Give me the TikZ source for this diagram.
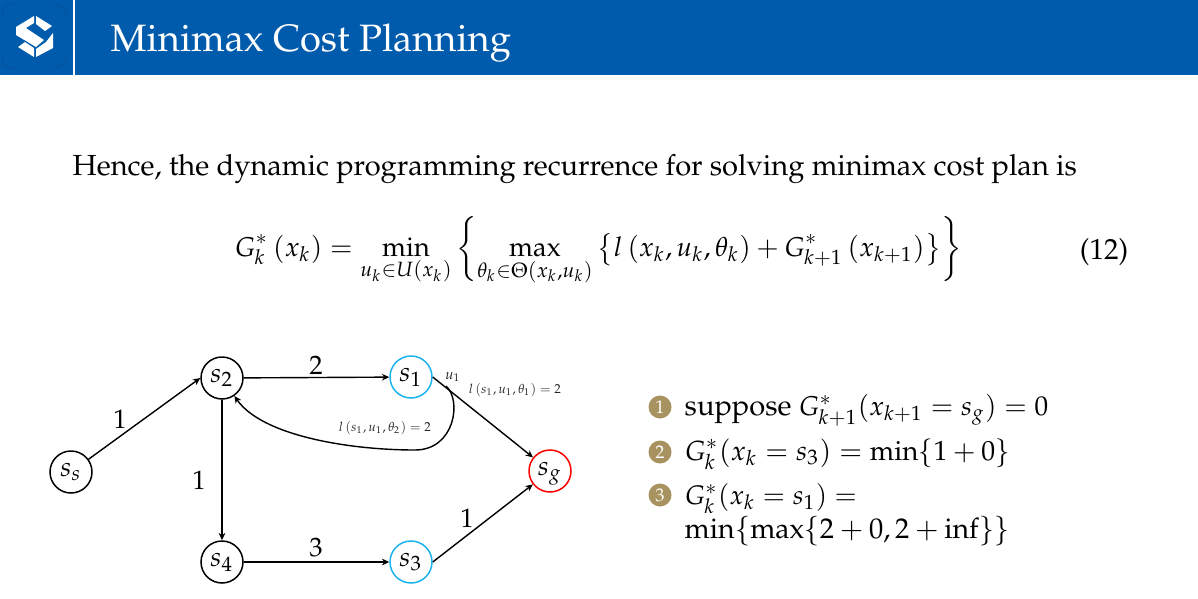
\documentclass[tikz,border=0pt]{standalone}
\usepackage[T1]{fontenc}
\usepackage{amsmath}
\usepackage{mathpazo}
\usepackage{tikz}
\usetikzlibrary{arrows.meta}
\definecolor{hdr}{HTML}{005BAC}
\definecolor{hdrd}{HTML}{0A4C8C}
\definecolor{bul}{HTML}{A8925F}
\definecolor{cy}{HTML}{1CB4EE}
\newcommand{\mth}{\fontsize{8.15}{10}\selectfont}
\tikzset{
  st/.style={circle,draw=black,line width=.45pt,minimum size=12.6pt,inner sep=0pt,text height=4pt,text depth=1.6pt,font=\fontsize{8.2}{10}\selectfont,fill=white},
  ar/.style={-{Stealth[length=2.2pt,width=2pt]},line width=.42pt,black},
  lbl/.style={font=\fontsize{8}{10}\selectfont,inner sep=0pt},
  sm/.style={font=\fontsize{3.9}{5}\selectfont,inner sep=0pt,text=black!85},
  bn/.style={circle,fill=bul,text=white,minimum size=6.9pt,inner sep=0pt,font=\fontsize{5.5}{6}\selectfont},
  tx/.style={anchor=base west,inner sep=0pt,font=\fontsize{8.72}{11}\selectfont},
}
\begin{document}
\begin{tikzpicture}[x=0.3pt,y=-0.3pt]
\useasboundingbox (0,0) rectangle (1198,599);
\fill[hdr] (0,0) rectangle (1198,75);
\fill[white] (73,0) rectangle (75,75);
% logo
\draw[hdrd,line width=.15pt] (2,15) .. controls (2,8) and (6,4) .. (14,4);
\draw[hdrd,line width=.15pt] (54,4) .. controls (62,4) and (67,8) .. (67,15);
\draw[hdrd,line width=.15pt] (2,58) .. controls (2,64) and (6,68) .. (14,68);
\draw[hdrd,line width=.15pt] (54,68) .. controls (62,68) and (67,64) .. (67,58);
\fill[white] (16,27) -- (34,16) -- (34,23) -- (26,28) -- (44,40) -- (36,47) -- (16,35) -- cycle;
\fill[white] (36,16) -- (52,26) -- (45,31) -- (36,24) -- cycle;
\fill[white] (53,33) -- (53,48) -- (36,57) -- (36,49) -- (46,42) -- cycle;
\fill[white] (18,47) -- (25,42) -- (34,48) -- (34,57) -- cycle;
\node[anchor=base west,inner sep=0pt,text=white,font=\fontsize{11.44}{14}\selectfont] (title) at (110,51) {Minimax Cost Planning};
\node[anchor=base west,inner sep=0pt,font=\fontsize{8.72}{11}\selectfont] (hence) at (72,175) {Hence, the dynamic programming recurrence for solving minimax cost plan is};
\node[inner sep=0pt,font=\mth] (eq) at (598.5,251) {$\displaystyle G_k^*\left(x_k\right)=\min_{u_k\in U(x_k)}\left\{\max_{\theta_k\in\Theta(x_k,u_k)}\left\{l\left(x_k,u_k,\theta_k\right)+G_{k+1}^*\left(x_{k+1}\right)\right\}\right\}$};
\node[anchor=base east,inner sep=0pt,font=\fontsize{8.72}{11}\selectfont] (eqn) at (1129,259) {(12)};
% graph
\node[st] (ss) at (71,472) {$s_s$};
\node[st] (s2) at (222,378) {$s_2$};
\node[st,draw=cy] (s1) at (411,377) {$s_1$};
\node[st,draw=red] (sg) at (550,471) {$s_g$};
\node[st] (s4) at (222,562) {$s_4$};
\node[st,draw=cy] (s3) at (411,562) {$s_3$};
\draw[ar] (ss) -- (s2.west);
\draw[ar] (s2) -- (s1);
\draw[ar] (s2) -- (s4);
\draw[ar] (s4) -- (s3);
\draw[ar] (s3.east) -- (sg);
\draw[ar] (s1.east) -- (sg);
\coordinate (u) at (446,386);
\draw[ar] (u) .. controls (462,400) and (455,450) .. (415,450) .. controls (350,450) and (262,436) .. (s2);
\node[lbl] (l1) at (120,419) {1};
\node[lbl] (l2) at (316,365) {2};
\node[lbl] (l3) at (199,480) {1};
\node[lbl] (l4) at (316,548) {3};
\node[lbl] (l5) at (467,518) {1};
\node[sm,font=\fontsize{4.4}{5}\selectfont] (u1) at (453,377) {$u_1$};
\node[sm] (t1) at (515,390) {$l\left(s_1,u_1,\theta_1\right)=2$};
\node[sm] (t2) at (385,428) {$l\left(s_1,u_1,\theta_2\right)=2$};
% list
\node[bn] (b1) at (660,407) {1};
\node[tx] (i1) at (684,415) {suppose {\mth$G_{k+1}^*(x_{k+1}=s_g)=0$}};
\node[bn] (b2) at (660,452) {2};
\node[tx,font=\fontsize{8.3}{11}\selectfont] (i2) at (684,460) {$G_k^*(x_k=s_3)=\min\{1+0\}$};
\node[bn] (b3) at (660,495) {3};
\node[tx,font=\fontsize{8.05}{11}\selectfont] (i3) at (684,504) {$G_k^*(x_k=s_1)=$};
\node[tx,font=\fontsize{8.55}{11}\selectfont] (i4) at (684,538) {$\min\{\max\{2+0,2+\mathrm{inf}\}\}$};
\end{tikzpicture}
\end{document}
